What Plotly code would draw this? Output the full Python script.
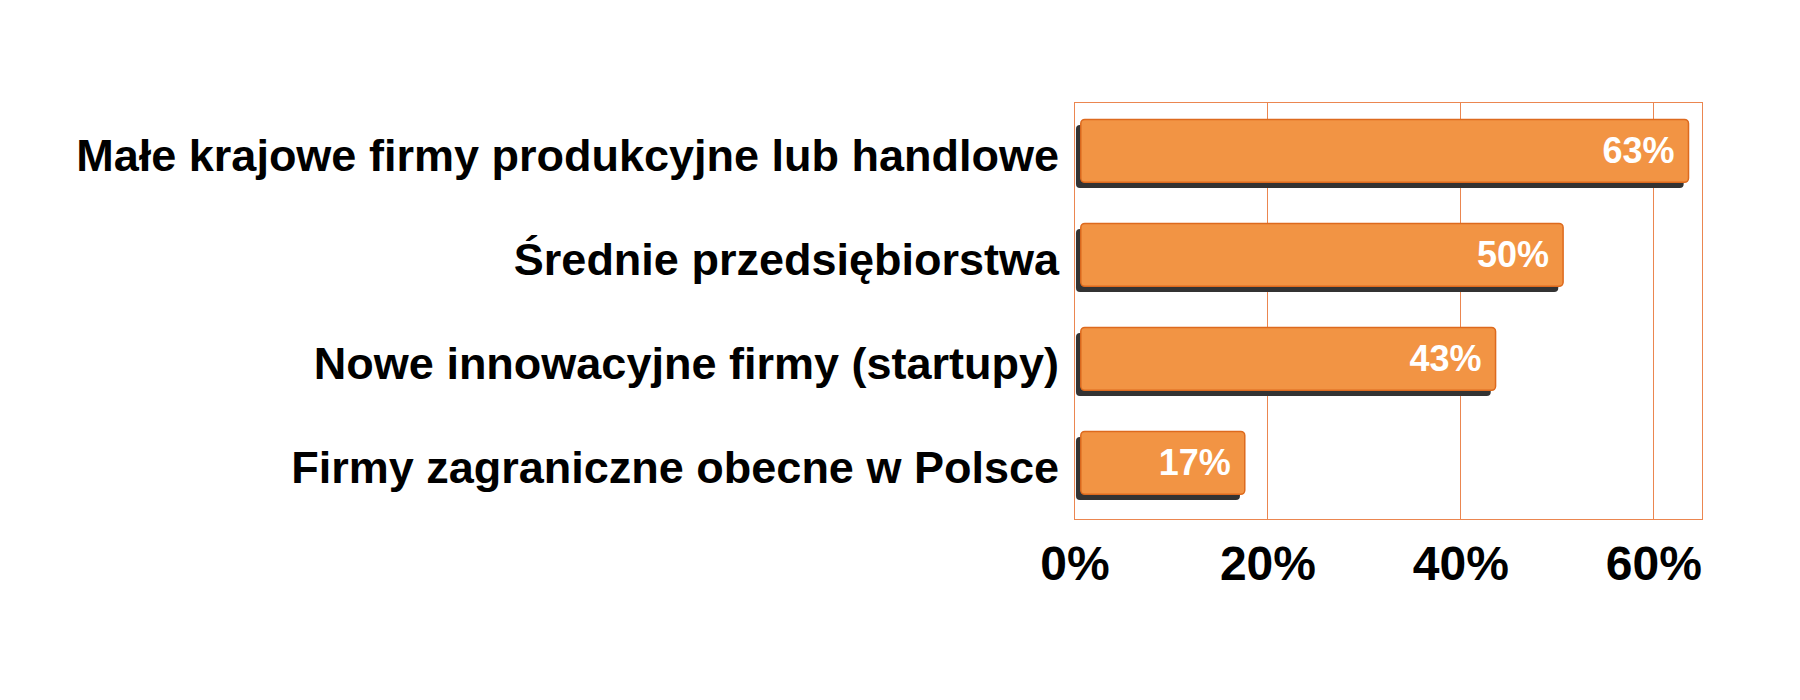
import plotly.graph_objects as go

categories = [
    "Małe krajowe firmy produkcyjne lub handlowe",
    "Średnie przedsiębiorstwa",
    "Nowe innowacyjne firmy (startupy)",
    "Firmy zagraniczne obecne w Polsce",
]
values = [63, 50, 43, 17]
tick_vals = [0, 20, 40, 60]
tick_text = ["0%", "20%", "40%", "60%"]

FONT = "Liberation Sans, Arial, sans-serif"
ORANGE = "#F29444"
EDGE = "#DD6A1E"
GRID = "#EB8650"

BAR_W = 0.605
BAR_OFF = -0.04 - BAR_W / 2

fig = go.Figure()

# shadow under each bar
fig.add_trace(go.Bar(
    y=categories, x=values, orientation="h", base=0.1,
    width=BAR_W, offset=BAR_OFF + 0.055,
    marker=dict(color="#333333", cornerradius=4, line=dict(width=0)),
    hoverinfo="skip", showlegend=False, textposition="none",
))

# main bars
fig.add_trace(go.Bar(
    y=categories, x=values, orientation="h", base=0.6,
    width=BAR_W, offset=BAR_OFF,
    marker=dict(color=ORANGE, cornerradius=4, line=dict(width=1.5, color=EDGE)),
    text=[f"{v}% " for v in values],
    textposition="inside", insidetextanchor="end",
    textfont=dict(family=FONT, size=36, color="white", weight="bold"),
    showlegend=False,
))

fig.update_layout(
    width=1800, height=700,
    barmode="overlay",
    paper_bgcolor="#FFFFFF", plot_bgcolor="#FFFFFF",
    margin=dict(l=1067, r=106, t=95, b=189),
    font=dict(family=FONT, color="black"),
)

fig.update_xaxes(
    range=[0, 65],
    tickvals=tick_vals, ticktext=tick_text,
    tickfont=dict(family=FONT, size=48, color="black", weight="bold"),
    showgrid=True, gridcolor=GRID, gridwidth=1,
    zeroline=False,
    showline=True, linecolor=GRID, linewidth=1, mirror=True,
    ticks="", ticklabelstandoff=2,
)

fig.update_yaxes(
    type="category", categoryorder="array", categoryarray=categories,
    range=[3.5, -0.5],
    tickfont=dict(family=FONT, size=45, color="black", weight="bold"),
    showgrid=False, zeroline=False,
    showline=True, linecolor=GRID, linewidth=1, mirror=True,
    ticks="", ticklabelstandoff=6,
)

fig.write_html("out.html")
